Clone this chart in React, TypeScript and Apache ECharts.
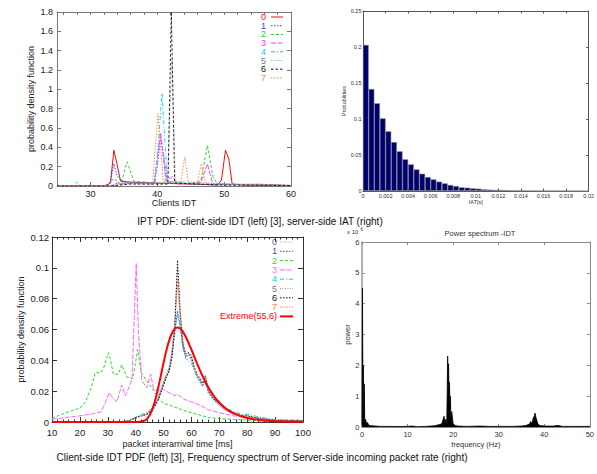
import React, { useEffect, useRef } from "react";
import * as echarts from "echarts";

const FONT = "'Liberation Sans', Arial, Helvetica, sans-serif";

// ---------- Top-left: client-side IDT PDF (gnuplot) ----------
const idtNames = ["0", "1", "2", "3", "4", "5", "6", "7"];
const idt0 = [[25, 0], [32, 0], [33, 0.03], [33.5, 0.37], [34, 0.22], [34.5, 0.05], [36, 0.04], [40, 0.03], [45, 0.02], [49, 0.01], [49.6, 0.06], [50.2, 0.37], [50.7, 0.28], [51.2, 0.02], [53, 0.01], [60, 0.005]];
const idt1 = [[25, 0], [32.5, 0], [33, 0.05], [33.5, 0.23], [34, 0.1], [35, 0.04], [39.5, 0.03], [40, 0.2], [40.5, 0.5], [41, 0.3], [41.5, 0.04], [45, 0.02], [50, 0.01], [55, 0.02], [60, 0.005]];
const idt2 = [[25, 0], [27.5, 0], [28, 0.04], [28.5, 0], [32.5, 0], [33.5, 0.08], [34.5, 0.02], [35.5, 0.25], [36.5, 0.05], [40, 0.03], [45, 0.03], [46.5, 0.05], [47.5, 0.42], [48.3, 0.1], [49, 0.02], [60, 0.005]];
const idt3 = [[25, 0], [33, 0], [34, 0.03], [39.5, 0.02], [40.5, 0.55], [41.3, 0.05], [42.3, 0.1], [43, 0.02], [46.5, 0.03], [47.5, 0.23], [48.3, 0.02], [60, 0.005]];
const idt4 = [[25, 0], [33, 0], [35, 0.03], [39.7, 0.03], [40.7, 0.96], [41.5, 0.05], [45, 0.02], [55, 0.01], [60, 0.005]];
const idt5 = [[25, 0], [33, 0], [36, 0.03], [41.5, 0.03], [42.2, 1.3], [42.7, 0.05], [50, 0.02], [60, 0.005]];
const idt6 = [[25, 0], [33, 0], [36, 0.02], [41.6, 0.02], [42.1, 1.8], [42.6, 0.03], [50, 0.01], [60, 0.005]];
const idt7 = [[25, 0], [33, 0], [36, 0.03], [39.3, 0.03], [40.1, 0.75], [40.9, 0.05], [43.5, 0.03], [44.1, 0.3], [44.7, 0.03], [46, 0.03], [46.6, 0.23], [47.2, 0.03], [60, 0.005]];
const idtSeries = [idt0, idt1, idt2, idt3, idt4, idt5, idt6, idt7];
const idtXTicks = [30, 40, 50, 60];

// ---------- Top-right: server-side IAT histogram (MATLAB) ----------
const iatBinWidth = 0.0005;
const iatProb = [0.203, 0.1417, 0.1218, 0.1009, 0.0829, 0.068, 0.0551, 0.044, 0.037, 0.03, 0.024, 0.0194, 0.0162, 0.013, 0.0106, 0.0083, 0.0069, 0.0051, 0.0046, 0.0037, 0.0032, 0.0023, 0.0019, 0.0016, 0.0014, 0.0012, 0.0009, 0.0008, 0.0006, 0.0005, 0.0004, 0.0004, 0.0003, 0.0003, 0.0002, 0.0002, 0.0002, 0.0001, 0.0001, 0.0001];

// ---------- Bottom-left: client-side IDT PDF with Extreme fit ----------
const pdfNames = ["0", "1", "2", "3", "4", "5", "6", "7", "Extreme(55,6)"];
const pdfX = [10, 35, 38, 40, 42, 44, 46, 48, 50, 51, 52, 53, 54, 55, 56, 57, 58, 59, 60, 61, 62, 63, 64, 65, 66, 68, 70, 72, 75, 78, 80, 85, 90, 100];
const pdf0 = [0, 0, 0.001, 0.003, 0.004, 0.005, 0.008, 0.015, 0.025, 0.03, 0.034, 0.045, 0.063, 0.088, 0.066, 0.05, 0.043, 0.043, 0.041, 0.035, 0.03, 0.027, 0.024, 0.026, 0.02, 0.015, 0.011, 0.008, 0.006, 0.004, 0.004, 0.002, 0.001, 0.0005];
const pdf1 = [0, 0, 0.001, 0.003, 0.004, 0.005, 0.007, 0.014, 0.024, 0.029, 0.033, 0.042, 0.058, 0.072, 0.062, 0.048, 0.042, 0.045, 0.04, 0.034, 0.029, 0.026, 0.023, 0.027, 0.019, 0.014, 0.011, 0.008, 0.005, 0.004, 0.003, 0.002, 0.001, 0.0005];
const pdf4 = [0, 0, 0.001, 0.003, 0.005, 0.006, 0.009, 0.016, 0.026, 0.031, 0.035, 0.046, 0.06, 0.069, 0.062, 0.047, 0.041, 0.04, 0.038, 0.034, 0.03, 0.027, 0.024, 0.025, 0.02, 0.015, 0.012, 0.009, 0.007, 0.005, 0.005, 0.003, 0.0015, 0.0008];
const pdf5 = [0, 0, 0.001, 0.003, 0.004, 0.005, 0.008, 0.015, 0.025, 0.03, 0.034, 0.044, 0.062, 0.1, 0.068, 0.05, 0.043, 0.044, 0.042, 0.035, 0.03, 0.027, 0.024, 0.028, 0.02, 0.015, 0.011, 0.008, 0.006, 0.004, 0.004, 0.002, 0.001, 0.0005];
const pdf6 = [0, 0, 0.001, 0.003, 0.004, 0.005, 0.008, 0.014, 0.024, 0.029, 0.033, 0.042, 0.06, 0.105, 0.07, 0.05, 0.044, 0.045, 0.043, 0.036, 0.031, 0.028, 0.025, 0.03, 0.021, 0.015, 0.012, 0.009, 0.006, 0.004, 0.004, 0.002, 0.001, 0.0005];
const pdf7 = [0, 0, 0.001, 0.002, 0.004, 0.006, 0.009, 0.016, 0.026, 0.031, 0.035, 0.046, 0.065, 0.092, 0.072, 0.052, 0.044, 0.042, 0.04, 0.035, 0.031, 0.029, 0.026, 0.027, 0.021, 0.016, 0.012, 0.009, 0.006, 0.005, 0.004, 0.002, 0.001, 0.0005];
const pdf2 = [[10, 0.0025], [15, 0.006], [20, 0.009], [22, 0.013], [24, 0.022], [25.5, 0.032], [27.5, 0.032], [28.5, 0.035], [30.2, 0.045], [31, 0.04], [32, 0.031], [33.8, 0.031], [35, 0.037], [36, 0.033], [37, 0.029], [39, 0.028], [40.7, 0.047], [42, 0.032], [43.5, 0.028], [45, 0.024], [46.5, 0.02], [48, 0.016], [50, 0.012], [52, 0.011], [55, 0.009], [58, 0.007], [62, 0.005], [66, 0.003], [70, 0.0022], [75, 0.0016], [80, 0.0012], [90, 0.0005], [100, 0.0003]];
const pdf3 = [[10, 0.0017], [15, 0.003], [20, 0.004], [25, 0.0055], [27.5, 0.0065], [28.5, 0.01], [30.5, 0.019], [32, 0.015], [33.3, 0.013], [35, 0.024], [36.3, 0.017], [37.3, 0.021], [38.7, 0.028], [40.2, 0.103], [41, 0.058], [42.2, 0.027], [44, 0.022], [45.4, 0.031], [46.5, 0.021], [48, 0.02], [50, 0.021], [52, 0.019], [54, 0.017], [55, 0.018], [57, 0.015], [60, 0.013], [63, 0.011], [66, 0.008], [70, 0.006], [75, 0.004], [80, 0.003], [85, 0.0025], [90, 0.0015], [100, 0.001]];
const extremeX = [10, 40, 43, 44, 45, 46, 47, 48, 49, 50, 51, 52, 53, 54, 55, 56, 57, 58, 60, 62, 64, 66, 68, 70, 73, 76, 80, 85, 90, 100];
const extremeY = [0, 0, 0.0008, 0.002, 0.0044, 0.0085, 0.0142, 0.0216, 0.0299, 0.0384, 0.0463, 0.0528, 0.0576, 0.0604, 0.0613, 0.0605, 0.0583, 0.0551, 0.0469, 0.038, 0.0298, 0.0227, 0.017, 0.0126, 0.0079, 0.0049, 0.0026, 0.0011, 0.0005, 0.0001];

// ---------- Bottom-right: power spectrum (MATLAB) ----------
const specData = [[0, 0.05], [0.1, 4.5], [0.2, 1.4], [0.3, 2.0], [0.4, 0.3], [0.5, 1.4], [0.6, 0.2], [0.8, 0.25], [1.0, 0.1], [1.2, 0.15], [1.5, 0.05], [2, 0.04], [3, 0.03], [4, 0.02], [6, 0.02], [8, 0.015], [10, 0.02], [11, 0.03], [12, 0.01], [14, 0.02], [15, 0.03], [16, 0.04], [17, 0.08], [17.5, 0.1], [18, 0.35], [18.2, 0.15], [18.4, 0.25], [18.6, 0.1], [18.8, 2.3], [18.9, 1.4], [19, 2.05], [19.1, 1.0], [19.2, 1.45], [19.3, 0.6], [19.4, 1.0], [19.5, 0.3], [19.7, 0.5], [20, 0.1], [20.5, 0.05], [21, 0.03], [23, 0.02], [26, 0.03], [28, 0.02], [30, 0.02], [33, 0.02], [35, 0.03], [36, 0.05], [36.8, 0.1], [37, 0.18], [37.3, 0.12], [37.6, 0.3], [37.8, 0.35], [38, 0.45], [38.2, 0.3], [38.4, 0.2], [38.6, 0.1], [39, 0.05], [40, 0.03], [42, 0.03], [43, 0.05], [44, 0.02], [46, 0.02], [48, 0.02], [50, 0.02]];

// ---------- texts ----------
const caption1 = "IPT PDF: client-side IDT (left) [3], server-side IAT (right)";
const caption2 = "Client-side IDT PDF (left) [3], Frequency spectrum of Server-side incoming packet rate (right)";
const specTitle = "Power spectrum -IDT";

// styles
const idtColors = ["#e81010", "#3b3bff", "#22cc22", "#ff33ff", "#00d8e0", "#9a9a9a", "#111111", "#ff8040"];
const idtDash: any[] = ["solid", [1.5, 1.5], [3, 2], [5, 1.5], [4, 2, 1, 2], [1, 1.5], [2.5, 2], [1.5, 1.5]];
const pdfColors = ["#aaaaaa", "#3b3bff", "#22dd22", "#ff66ff", "#00d8e0", "#9a9a9a", "#111111", "#ff7f50", "#ff0000"];
const pdfDash: any[] = [[1, 1.5], [1.5, 1.5], [3, 2], [5, 1.5], [4, 2, 1, 2], [1, 1.5], [1.5, 1.5], [1.5, 1.5], "solid"];

function axis(kind: "x" | "y", gridIndex: number, position: string, min: number, max: number, o: any) {
  const a: any = {
    type: "value",
    gridIndex,
    position,
    min,
    max,
    axisLine: { show: true, onZero: false, lineStyle: { color: o.lineColor, width: o.lineWidth ?? 1 } },
    axisTick: { show: true, inside: true, length: o.tickLen ?? 4, lineStyle: { color: o.lineColor } },
    axisLabel: {
      show: !o.hideLabels,
      fontSize: o.fontSize,
      color: o.textColor,
      fontFamily: FONT,
      margin: o.margin ?? 4,
    },
    splitLine: { show: false },
  };
  if (o.interval !== undefined) a.interval = o.interval;
  if (o.tickValues) a.axisTick.customValues = o.tickValues;
  if (o.labelValues) a.axisLabel.customValues = o.labelValues;
  if (o.minor) a.minorTick = { show: true, splitNumber: o.minor, length: o.minorLen ?? 2, lineStyle: { color: o.lineColor } };
  if (o.name) {
    a.name = o.name;
    a.nameLocation = "middle";
    a.nameGap = o.nameGap;
    a.nameTextStyle = { fontSize: o.nameSize ?? o.fontSize, color: o.textColor, fontFamily: FONT };
  }
  return a;
}

function legendGraphics(names: string[], colors: string[], dashes: any[], widths: number[], textRight: number, lx1: number, lx2: number, y0: number, dy: number, fs: number, textColors: string[]) {
  const els: any[] = [];
  names.forEach((n, i) => {
    const y = y0 + i * dy;
    els.push({
      type: "text",
      x: textRight,
      y,
      style: { text: n, fill: textColors[i], fontSize: fs, fontFamily: FONT, align: "right", verticalAlign: "middle" },
    });
    els.push({
      type: "line",
      shape: { x1: lx1, y1: y, x2: lx2, y2: y },
      style: { stroke: colors[i], lineWidth: widths[i], lineDash: dashes[i] === "solid" ? null : dashes[i] },
    });
  });
  return els;
}

export default function App() {
  const ref = useRef<HTMLDivElement>(null);
  useEffect(() => {
    const chart = echarts.init(ref.current!, null, { renderer: "svg" });
    const gnuLine = "#777777";
    const gnuText = "#222222";
    const matLine = "#555555";
    const matText = "#333333";

    const xAxis = [
      axis("x", 0, "bottom", 25, 60, { lineColor: gnuLine, textColor: gnuText, fontSize: 9, margin: 3, tickValues: idtXTicks, labelValues: idtXTicks, name: "Clients IDT", nameGap: 11 }),
      axis("x", 0, "top", 25, 60, { lineColor: gnuLine, textColor: gnuText, fontSize: 9, hideLabels: true, tickLen: 3, tickValues: Array.from({ length: 18 }, (_, i) => 26 + 2 * i) }),
      axis("x", 1, "bottom", 0, 0.02, { interval: 0.002, lineColor: matLine, textColor: matText, fontSize: 5.5, margin: 1.5, tickLen: 2.5, name: "IAT[s]", nameGap: 8, nameSize: 5.5 }),
      axis("x", 1, "top", 0, 0.02, { interval: 0.002, lineColor: matLine, textColor: matText, fontSize: 5.5, hideLabels: true, tickLen: 2.5 }),
      axis("x", 2, "bottom", 10, 100, { interval: 10, lineColor: "#333", textColor: gnuText, fontSize: 9.5, margin: 5, tickLen: 5, minor: 5, minorLen: 2.5, name: "packet interarrival time [ms]", nameGap: 17, nameSize: 9 }),
      axis("x", 2, "top", 10, 100, { interval: 10, lineColor: "#333", textColor: gnuText, fontSize: 9, hideLabels: true, tickLen: 5, minor: 5, minorLen: 2.5 }),
      axis("x", 3, "bottom", 0, 50, { interval: 10, lineColor: "#888", textColor: matText, fontSize: 7.5, margin: 3.5, tickLen: 3, name: "frequency (Hz)", nameGap: 13 }),
      axis("x", 3, "top", 0, 50, { interval: 10, lineColor: "#888", textColor: matText, fontSize: 7.5, hideLabels: true, tickLen: 3 }),
    ];
    const yAxis = [
      axis("y", 0, "left", 0, 1.8, { interval: 0.2, lineColor: gnuLine, textColor: gnuText, fontSize: 9, margin: 4, name: "probability density function", nameGap: 22 }),
      axis("y", 0, "right", 0, 1.8, { interval: 0.2, lineColor: gnuLine, textColor: gnuText, fontSize: 9, hideLabels: true }),
      axis("y", 1, "left", 0, 0.25, { interval: 0.05, lineColor: matLine, textColor: matText, fontSize: 5.5, margin: 1.5, tickLen: 2.5, name: "Probabilities", nameGap: 13, nameSize: 5.5 }),
      axis("y", 1, "right", 0, 0.25, { interval: 0.05, lineColor: matLine, textColor: matText, fontSize: 5.5, hideLabels: true, tickLen: 2.5 }),
      axis("y", 2, "left", 0, 0.12, { interval: 0.02, lineColor: "#333", textColor: gnuText, fontSize: 9.5, margin: 3, tickLen: 5, name: "probability density function", nameGap: 27, nameSize: 9 }),
      axis("y", 2, "right", 0, 0.12, { interval: 0.02, lineColor: "#333", textColor: gnuText, fontSize: 9, hideLabels: true, tickLen: 5 }),
      axis("y", 3, "left", 0, 6, { interval: 1, lineColor: "#999", lineWidth: 1.5, textColor: matText, fontSize: 7.5, margin: 2.5, tickLen: 3, name: "power", nameGap: 8 }),
      axis("y", 3, "right", 0, 6, { interval: 1, lineColor: "#888", textColor: matText, fontSize: 7.5, hideLabels: true, tickLen: 3 }),
    ];

    const series: any[] = [];
    idtSeries.forEach((d, i) => {
      series.push({
        name: "idt" + idtNames[i],
        type: "line",
        xAxisIndex: 0,
        yAxisIndex: 0,
        data: d,
        symbol: "none",
        lineStyle: { color: idtColors[i], width: i === 0 ? 1 : 0.9, type: idtDash[i] },
        z: i === 6 ? 10 : 2,
      });
    });
    series.push({
      name: "iat",
      type: "bar",
      xAxisIndex: 2,
      yAxisIndex: 2,
      barWidth: 5.75,
      data: iatProb.map((v, i) => [(i + 0.5) * iatBinWidth, v]),
      itemStyle: { color: "#00006e", borderColor: "#8a8a8a", borderWidth: 0.6 },
    });
    const pdfYs = [pdf0, pdf1, null, null, pdf4, pdf5, pdf6, pdf7];
    [0, 1, 2, 3, 4, 5, 6, 7].forEach((i) => {
      const data = i === 2 ? pdf2 : i === 3 ? pdf3 : pdfX.map((x, k) => [x, (pdfYs[i] as number[])[k]]);
      series.push({
        name: "pdf" + pdfNames[i],
        type: "line",
        xAxisIndex: 4,
        yAxisIndex: 4,
        data,
        symbol: "none",
        lineStyle: { color: pdfColors[i], width: 1, type: pdfDash[i] },
      });
    });
    series.push({
      name: "extreme",
      type: "line",
      xAxisIndex: 4,
      yAxisIndex: 4,
      data: extremeX.map((x, k) => [x, extremeY[k]]),
      symbol: "none",
      smooth: true,
      lineStyle: { color: pdfColors[8], width: 2 },
      z: 10,
    });
    series.push({
      name: "spectrum",
      type: "line",
      xAxisIndex: 6,
      yAxisIndex: 6,
      data: specData,
      symbol: "none",
      lineStyle: { color: "#000", width: 0.8 },
      areaStyle: { color: "#000", opacity: 1 },
    });

    const graphic: any[] = [
      ...legendGraphics(idtNames, idtColors, idtDash, idtNames.map(() => 1), 266, 271, 283, 17, 8.7, 9, idtColors.map((c, i) => (i === 5 ? "#777" : c))),
      ...legendGraphics(pdfNames, pdfColors, pdfDash, pdfNames.map((_, i) => (i === 8 ? 2 : 1)), 277, 280, 293, 242, 9.3, 9, pdfColors.map((c, i) => (i === 0 ? "#666" : i === 5 ? "#777" : c))),
      { type: "text", x: 260, y: 221, style: { text: caption1, fill: "#111", fontSize: 10, fontFamily: FONT, align: "center", verticalAlign: "middle" } },
      { type: "text", x: 262, y: 457, style: { text: caption2, fill: "#111", fontSize: 10, fontFamily: FONT, align: "center", verticalAlign: "middle" } },
      { type: "text", x: 480, y: 233, style: { text: specTitle, fill: matText, fontSize: 7.5, fontFamily: FONT, align: "center", verticalAlign: "middle" } },
      { type: "text", x: 347, y: 232, style: { text: "x 10", fill: matText, fontSize: 6, fontFamily: FONT, align: "left", verticalAlign: "middle" } },
      { type: "text", x: 360.5, y: 229, style: { text: "6", fill: matText, fontSize: 4.5, fontFamily: FONT, align: "left", verticalAlign: "middle" } },
    ];

    chart.setOption({
      animation: false,
      backgroundColor: "#ffffff",
      textStyle: { fontFamily: FONT },
      grid: [
        { left: 57, top: 12, width: 234, height: 174 },
        { left: 363, top: 11, width: 230, height: 180 },
        { left: 52, top: 237, width: 251, height: 185 },
        { left: 362, top: 242, width: 236, height: 185 },
      ],
      xAxis,
      yAxis,
      series,
      graphic,
    });
    return () => chart.dispose();
  }, []);
  return <div ref={ref} style={{ position: "fixed", left: 0, top: 0, width: 597, height: 474, background: "#fff" }} />;
}
